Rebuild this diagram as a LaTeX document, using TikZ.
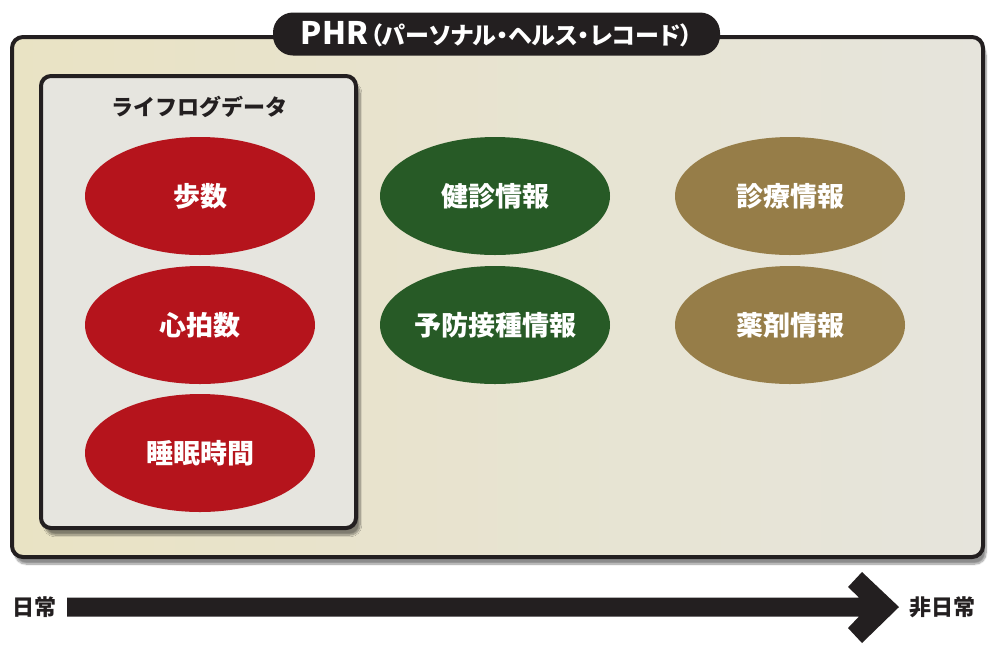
\documentclass[tikz,border=0pt]{standalone}
\usepackage{fontspec}
\newfontfamily\jp{Noto Sans CJK JP}
\newfontfamily\jpp{Noto Sans CJK JP}[RawFeature=+palt]
\usetikzlibrary{shapes.geometric,shadows,shadows.blur,calc}
\definecolor{ink}{HTML}{231F20}
\definecolor{cred}{HTML}{B5141C}
\definecolor{cgreen}{HTML}{275A26}
\definecolor{cbrown}{HTML}{967D48}
\definecolor{boxfill}{HTML}{E6E5DF}
\definecolor{outerL}{HTML}{E9E3C4}
\definecolor{outerR}{HTML}{E6E4DC}
\tikzset{
  item/.style={ellipse, minimum width=230pt, minimum height=118pt, inner sep=0pt,
    text=white, font=\jp\bfseries\fontsize{27}{30}\selectfont},
  lifeitem/.style={item, fill=cred},
  checkitem/.style={item, fill=cgreen},
  meditem/.style={item, fill=cbrown},
  axislabel/.style={text=ink, font=\jp\bfseries\fontsize{22}{24}\selectfont, inner sep=0pt},
}
\begin{document}
\begin{tikzpicture}[x=1pt,y=-1pt]
\useasboundingbox (0,0) rectangle (1000,657);
% outer PHR box
\path[blur shadow={shadow xshift=3pt, shadow yshift=-7pt, shadow blur steps=10, shadow opacity=45}]
  [rounded corners=11pt] (12,37) rectangle (983,557);
\draw[line width=4pt, draw=ink, rounded corners=11pt, left color=outerL, right color=outerR]
  (12,37) rectangle (983,557);
% title tab
\node[fill=ink, rounded corners=20pt, minimum width=447pt, minimum height=43pt, inner sep=0pt,
  text=white, font=\jpp\bfseries] (title) at (496.5,34)
  {\fontsize{31}{32}\selectfont PHR\hspace{2pt}\fontsize{24}{26}\selectfont（パーソナル・ヘルス・レコード）};
% inner lifelog box
\path[blur shadow={shadow xshift=4pt, shadow yshift=-7pt, shadow blur steps=10, shadow opacity=45}]
  [rounded corners=10pt] (41,76) rectangle (356,528);
\draw[line width=4pt, draw=ink, fill=boxfill, rounded corners=10pt] (41,76) rectangle (356,528);
\node[text=ink, font=\jp\bfseries\fontsize{22}{24}\selectfont] (lifelog) at (199,107) {ライフログデータ};
% items
\node[lifeitem] (steps) at (200,196) {歩数};
\node[lifeitem] (heart) at (200,325) {心拍数};
\node[lifeitem] (sleep) at (200,453) {睡眠時間};
\node[checkitem] (checkup) at (495,196) {健診情報};
\node[checkitem] (vacc) at (495,325) {予防接種情報};
\node[meditem] (clinic) at (790,196) {診療情報};
\node[meditem] (drug) at (790,325) {薬剤情報};
% axis
\node[axislabel, anchor=west] (daily) at (12,607) {日常};
\node[axislabel, anchor=west] (nondaily) at (909,607) {非日常};
\coordinate (as) at (67,607);
\coordinate (ae) at (899,607);
\fill[ink] ($(as)+(0,-9.5)$) -- (859,597.5) -- (848,587) -- (862,572) -- (ae) -- (862,643) -- (848,628) -- (859,616.5) -- ($(as)+(0,9.5)$) -- cycle;
\end{tikzpicture}
\end{document}
